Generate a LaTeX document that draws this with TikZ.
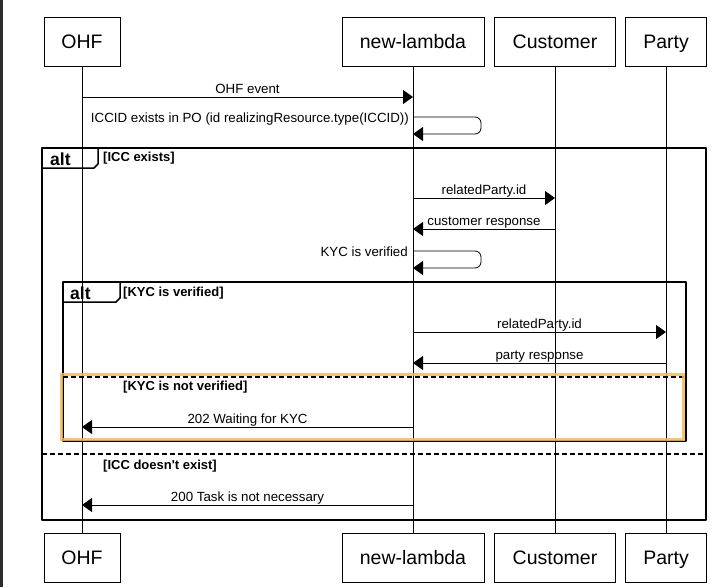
\documentclass[tikz,border=0pt]{standalone}
\usepackage{fontspec}
\setmainfont{Liberation Sans}
\usetikzlibrary{positioning,calc,arrows.meta}
\definecolor{hiorange}{RGB}{243,186,88}
\definecolor{edgegray}{RGB}{43,43,43}

\begin{document}
\begin{tikzpicture}[x=1pt, y=-1pt]
	\tikzstyle{every node}=[align=center, inner sep=0pt]
	\tikzstyle{actor}=[draw, line width=0.8pt, minimum height=49pt, text height=16pt, text depth=3pt, font=\fontsize{19.5}{22}\selectfont]
	\tikzstyle{msg}=[line width=0.8pt, ->, >={Triangle[length=10pt, width=14pt]}]
	\tikzstyle{lbl}=[midway, anchor=base, yshift=4pt, font=\fontsize{13.3}{15}\selectfont]
	\tikzstyle{note}=[anchor=base east, font=\fontsize{13.3}{15}\selectfont]
	\tikzstyle{guard}=[anchor=base west, font=\fontsize{13}{15}\bfseries\selectfont]
	\tikzstyle{tag}=[anchor=base west, font=\fontsize{17.5}{20}\bfseries\selectfont]
	\tikzstyle{frame}=[line width=1.5pt, line join=round]
	\tikzstyle{sep}=[line width=1.5pt, dash pattern=on 5pt off 3pt]

	\useasboundingbox (0,0) rectangle (728,587);
	\fill [edgegray] (0,0) rectangle (3,587);

	\node [actor, minimum width=76pt] (ohf) at (82, 41.5) {OHF};
	\node [actor, minimum width=142pt] (nl) at (413, 41.5) {new-lambda};
	\node [actor, minimum width=121pt] (cust) at (555, 41.5) {Customer};
	\node [actor, minimum width=81pt] (party) at (666, 41.5) {Party};

	\node [actor, minimum width=76pt] (ohfB) at (82, 557.5) {OHF};
	\node [actor, minimum width=142pt] (nlB) at (413, 557.5) {new-lambda};
	\node [actor, minimum width=121pt] (custB) at (555, 557.5) {Customer};
	\node [actor, minimum width=81pt] (partyB) at (666, 557.5) {Party};

	\draw [line width=0.8pt] (ohf) to (ohfB);
	\draw [line width=0.8pt] (nl) to (nlB);
	\draw [line width=0.8pt] (cust) to (custB);
	\draw [line width=0.8pt] (party) to (partyB);

	\coordinate (ohf1) at (82, 97);
	\coordinate (nl1) at (413, 97);
	\coordinate (nl2) at (413, 117);
	\coordinate (nl3) at (413, 134);
	\coordinate (nl4) at (413, 198);
	\coordinate (cust4) at (555, 198);
	\coordinate (nl5) at (413, 229);
	\coordinate (cust5) at (555, 229);
	\coordinate (nl6) at (413, 251);
	\coordinate (nl7) at (413, 268);
	\coordinate (nl8) at (413, 332);
	\coordinate (party8) at (666, 332);
	\coordinate (nl9) at (413, 363);
	\coordinate (party9) at (666, 363);
	\coordinate (nl10) at (413, 427);
	\coordinate (ohf10) at (82, 427);
	\coordinate (nl11) at (413, 505);
	\coordinate (ohf11) at (82, 505);

	\draw [msg] (ohf1) to node [lbl] {OHF event} (nl1);
	\draw [msg, rounded corners=6pt] (nl2) -- ++(68,0) |- (nl3);
	\node [note] (chk1) at (409, 122) {ICCID exists in PO (id realizingResource.type(ICCID))};

	\draw [frame] (42,148) rectangle (706,520);
	\draw [frame] (42,168) -- (94,168) -- (98,164) -- (98,148);
	\node [tag] (alt1) at (50,165) {alt};
	\node [guard] (g1) at (103,161) {[ICC exists]};

	\draw [msg] (nl4) to node [lbl] {relatedParty.id} (cust4);
	\draw [msg] (cust5) to node [lbl] {customer response} (nl5);
	\draw [msg, rounded corners=6pt] (nl6) -- ++(68,0) |- (nl7);
	\node [note] (chk2) at (408, 256) {KYC is verified};

	\draw [frame] (63,282) rectangle (686,441);
	\draw [frame] (63,302) -- (116,302) -- (120,298) -- (120,282);
	\node [tag] (alt2) at (70,299) {alt};
	\node [guard] (g2) at (123,296) {[KYC is verified]};

	\draw [msg] (nl8) to node [lbl] {relatedParty.id} (party8);
	\draw [msg] (party9) to node [lbl] {party response} (nl9);

	\draw [sep] (63,377) -- (686,377);
	\node [guard] (g3) at (123,390) {[KYC is not verified]};
	\draw [msg] (nl10) to node [lbl] {202 Waiting for KYC} (ohf10);
	\draw [hiorange, line width=3pt, opacity=0.85] (61,374) rectangle (683,439);

	\draw [sep] (42,454) -- (706,454);
	\node [guard] (g4) at (103,469) {[ICC doesn\textquotesingle t exist]};
	\draw [msg] (nl11) to node [lbl] {200 Task is not necessary} (ohf11);
\end{tikzpicture}
\end{document}
